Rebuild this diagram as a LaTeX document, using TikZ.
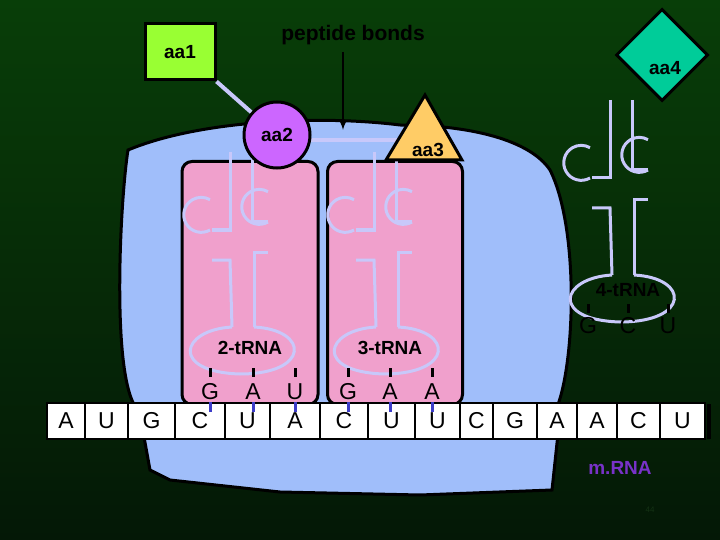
\documentclass[tikz,border=0pt]{standalone}
\usepackage{fontspec}
\setmainfont{Liberation Sans}
\usetikzlibrary{shapes.geometric}
\definecolor{ribo}{RGB}{160,190,250}
\definecolor{lav}{RGB}{200,200,250}
\definecolor{bgtop}{RGB}{8,62,8}
\definecolor{bgbot}{RGB}{4,24,6}
\definecolor{aaone}{RGB}{153,255,51}
\definecolor{aatwo}{RGB}{204,102,255}
\definecolor{aathree}{RGB}{255,204,102}
\definecolor{aafour}{RGB}{0,204,153}
\definecolor{pinkc}{RGB}{240,160,204}
\definecolor{mrnac}{RGB}{120,50,200}
\definecolor{numc}{RGB}{20,50,20}
\definecolor{bluet}{RGB}{60,60,200}
\begin{document}
\begin{tikzpicture}[x=1pt,y=-1pt,
 lbl/.style={font=\bfseries\fontsize{19}{19}\selectfont},
 cell/.style={draw=black,line width=2.5pt,fill=white,minimum height=36pt,inner sep=0pt},
 trna/.style={draw=lav,line width=3pt},
 pinkbox/.style={draw=black,line width=3pt,fill=pinkc,rounded corners=10pt},
 tick/.style={line width=3pt}]
\useasboundingbox (0,0) rectangle (720,540);
\shade[top color=bgtop,bottom color=bgbot] (0,0) rectangle (720,540);
% ribosome
\fill[ribo,draw=black,line width=3pt] (150,470) -- (140,415) -- (560,415) -- (552,490) -- (420,495) -- (280,492) -- (170,480) -- cycle;
\fill[ribo,draw=black,line width=3pt] (140,412) .. controls (110,390) and (120,200) .. (128,150)
 .. controls (200,120) and (320,115) .. (400,125) .. controls (470,125) and (530,140) .. (550,170)
 .. controls (580,230) and (575,370) .. (555,412) -- cycle;
% pink boxes
\node[pinkbox,minimum width=136pt,minimum height=243pt] (b2) at (250,283) {};
\node[pinkbox,minimum width=135pt,minimum height=243pt] (b3) at (395,283) {};
% tRNA shapes
\newcommand{\mytrna}[2]{%
 \begin{scope}[shift={(#1,#2)}]
 \draw[trna] (-10,0) -- (-10,78) -- (-28,78);
 \draw[trna] (-28,108) -- (-10,108) -- (-8,175);
 \draw[trna] (-30,78) arc (60:300:17.5) ;
 \draw[trna] (12,0) -- (12,70) -- (28,70);
 \draw[trna] (28,100) -- (14,100) -- (14,175);
 \draw[trna] (28,70) arc (-120:120:-17.5);
 \draw[trna] (-8,175) .. controls (-60,178) and (-70,220) .. (0,222) .. controls (70,222) and (70,178) .. (14,175);
 \end{scope}}
\mytrna{240}{152}
\mytrna{384}{152}
\mytrna{620}{100}
% labels
\node[lbl] (l2) at (250,348) {2-tRNA};
\node[lbl] (l3) at (390,348) {3-tRNA};
\node[lbl] (l4) at (628,290) {4-tRNA};
% aa
\draw[lav,line width=4pt] (300,140) -- (400,140);
\node[draw=black,line width=3pt,fill=aatwo,circle,minimum size=66pt,lbl] (aa2) at (277,135) {aa2};
\fill[aathree,draw=black,line width=3pt] (425,95) -- (462,160) -- (386,160) -- cycle;
\node[lbl] (aa3) at (428,150) {aa3};
\node[draw=black,line width=3pt,fill=aaone,minimum width=70pt,minimum height=56pt,lbl] (aa1) at (180,52) {aa1};
\node[draw=black,line width=3pt,fill=aafour,diamond,minimum size=92pt,inner sep=0pt] (aa4) at (662,55) {};
\node[lbl] at (665,68) {aa4};
\node[lbl,font=\bfseries\fontsize{21}{21}\selectfont] (pb) at (353,35) {peptide bonds};
\draw[lav,line width=4pt] (aa1.south east) -- (aa2);
\coordinate (arr) at (343,130);
\draw[black,line width=2pt,-latex] (343,52) -- (arr);
% mRNA
\foreach \l/\a/\b in {A/47/85,U/85/128,G/128/175,C/175/225,U/225/270,A/270/320,C/320/368,U/368/415,U/415/460,C/460/493,G/493/537,A/537/577,A/577/617,C/617/660,U/660/705}{
 \node[cell,minimum width={\b-\a},lbl,font=\fontsize{23}{23}\selectfont] at ({(\a+\b)/2},421) {\l};}
\draw[line width=4pt] (709,404) -- (709,439);
% anticodons
\foreach \l/\x in {G/210,A/253,U/295,G/348,A/390,A/432}{
 \node[lbl,font=\fontsize{23}{23}\selectfont] at (\x,392) {\l};
 \draw[tick] (\x,368) -- (\x,377);
 \draw[tick,bluet] (\x,402) -- (\x,412);}
\foreach \l/\x in {G/588,C/628,U/668}{
 \node[lbl,font=\fontsize{23}{23}\selectfont] at (\x,326) {\l};
 \draw[tick] (\x,304) -- (\x,313);}
\node[lbl,text=mrnac] at (620,468) {m.RNA};
\node[font=\fontsize{8}{8}\selectfont,text=numc] at (650,510) {44};
\end{tikzpicture}
\end{document}
